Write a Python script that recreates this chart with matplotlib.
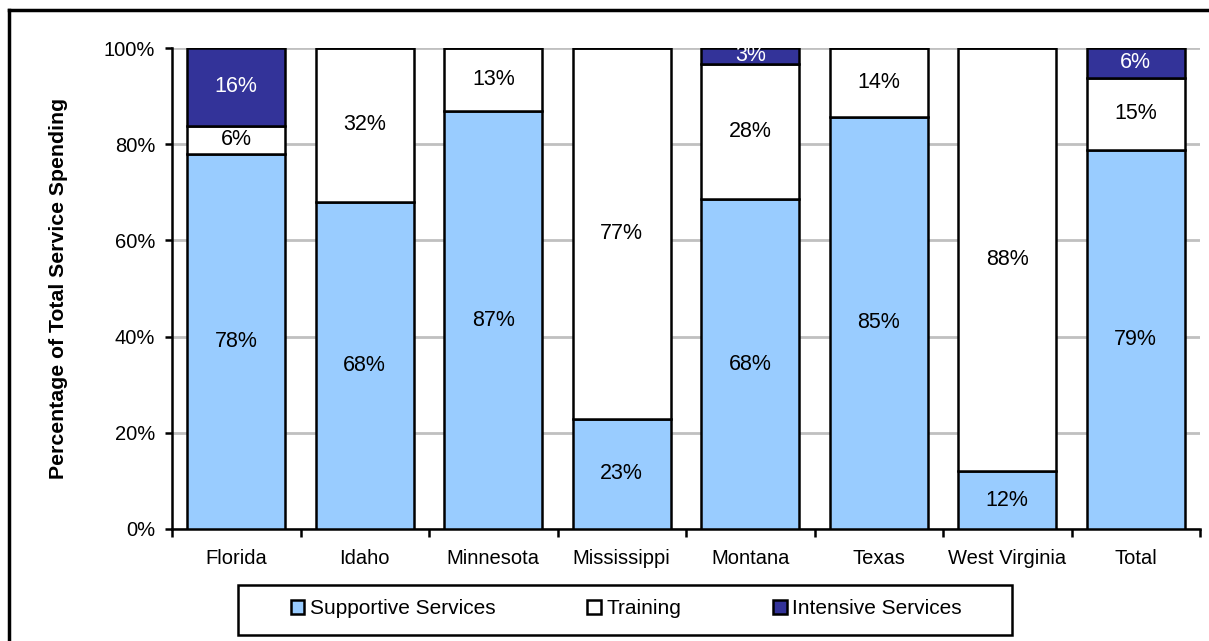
import matplotlib
matplotlib.use("Agg")
from matplotlib import pyplot as plt
from matplotlib.lines import Line2D
from matplotlib.patches import Rectangle
import numpy as np

plt.rcParams['font.family'] = ['Liberation Sans', 'DejaVu Sans']

states = ["Florida", "Idaho", "Minnesota", "Mississippi", "Montana", "Texas", "West Virginia", "Total"]
supportive = [78.0, 68.0, 86.9, 22.9, 68.6, 85.7, 12.0, 78.8]
training = [5.8, 32.0, 13.1, 77.1, 28.1, 14.3, 88.0, 15.0]
intensive = [16.2, 0, 0, 0, 3.3, 0, 0, 6.2]
supportive_lbl = ["78%", "68%", "87%", "23%", "68%", "85%", "12%", "79%"]
training_lbl = ["6%", "32%", "13%", "77%", "28%", "14%", "88%", "15%"]
intensive_lbl = ["16%", "", "", "", "3%", "", "", "6%"]

W, H = 1209, 641
fig = plt.figure(figsize=(W/100, H/100), dpi=100)
ax = fig.add_axes([172/W, 1-529/H, (1200-172)/W, (529-48)/H])

x = np.arange(len(states))
w = 0.76
b1 = ax.bar(x, supportive, w, color='#99ccff', edgecolor='black', lw=1.8, label='Supportive Services', zorder=3)
b2 = ax.bar(x, training, w, bottom=supportive, color='white', edgecolor='black', lw=1.8, label='Training', zorder=3)
bot2 = np.array(supportive) + np.array(training)
b3 = ax.bar(x, intensive, w, bottom=bot2, color='#333399', edgecolor='black', lw=1.8, label='Intensive Services', zorder=3)

for i in range(len(states)):
    ax.text(x[i], supportive[i]/2, supportive_lbl[i], ha='center', va='center', fontsize=15.5, zorder=4)
    ax.text(x[i], supportive[i] + training[i]/2, training_lbl[i], ha='center', va='center', fontsize=15.5, zorder=4)
    if intensive_lbl[i]:
        ax.text(x[i], bot2[i] + intensive[i]/2, intensive_lbl[i], ha='center', va='center', fontsize=15.5,
                color='white', zorder=4)

ax.set_xlim(-0.5, len(states)-0.5)
ax.set_ylim(0, 100)
ax.set_yticks(range(0, 101, 20))
ax.set_yticklabels([f"{v}%" for v in range(0, 101, 20)], fontsize=14.5)
ax.set_xticks(x)
ax.set_xticklabels(states, fontsize=14.5)
ax.set_xticks(np.arange(-0.5, len(states), 1), minor=True)
ax.tick_params(axis='x', which='major', length=0, pad=14.5)
ax.tick_params(axis='x', which='minor', length=6, width=1.8, direction='out')
ax.tick_params(axis='y', length=5, width=1.8, direction='out', pad=7)
ax.yaxis.grid(True, color='#c0c0c0', lw=2, zorder=0)
ax.spines['right'].set_visible(False)
ax.spines['top'].set_visible(False)
ax.spines['left'].set_linewidth(1.8)
ax.spines['bottom'].set_linewidth(1.8)
ax.set_ylabel("Percentage of Total Service Spending", fontsize=15.3, fontweight='bold')
ax.yaxis.set_label_coords((68-172)/1028, 0.5)

leg = fig.legend(handles=[b1, b2, b3], loc='center', bbox_to_anchor=(626/W, 1-609/H), ncol=3,
                 fontsize=15, frameon=False,
                 handlelength=0.67, handleheight=0.65, handletextpad=0.25, columnspacing=4.4)
fig.add_artist(Rectangle((238/W, 1-635/H), (1012-238)/W, 50/H, transform=fig.transFigure,
                         fill=False, edgecolor='black', lw=1.8))

fig.add_artist(Line2D([9/W, 9/W], [0, 1-10/H], color='black', lw=2.5))
fig.add_artist(Line2D([9/W, 1], [1-10/H, 1-10/H], color='black', lw=2.5))

fig.savefig("out.png", dpi=100)
